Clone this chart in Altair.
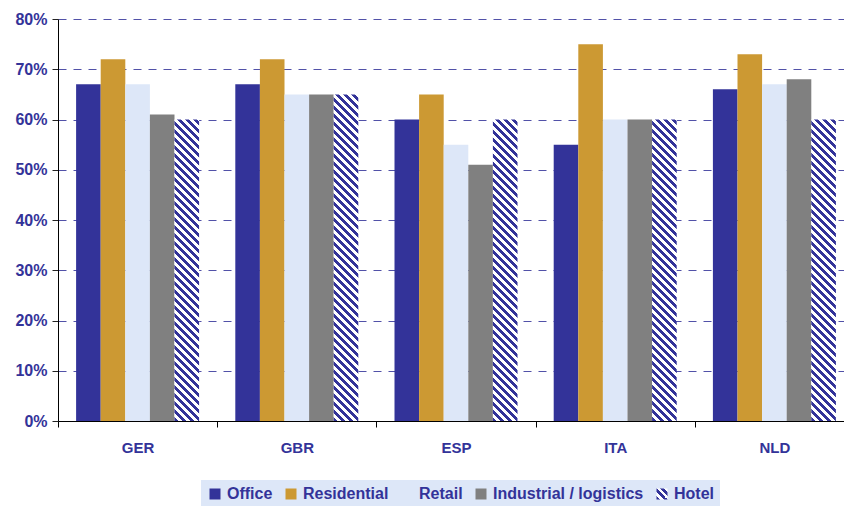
import altair as alt
import pandas as pd

# ---- data ----
countries = ["GER", "GBR", "ESP", "ITA", "NLD"]
series = ["Office", "Residential", "Retail", "Industrial / logistics", "Hotel"]
office = [0.67, 0.67, 0.60, 0.55, 0.66]
residential = [0.72, 0.72, 0.65, 0.75, 0.73]
retail = [0.67, 0.65, 0.55, 0.60, 0.67]
industrial = [0.61, 0.65, 0.51, 0.60, 0.68]
hotel = [0.60, 0.65, 0.60, 0.60, 0.60]
y_ticks = [0.0, 0.1, 0.2, 0.3, 0.4, 0.5, 0.6, 0.7, 0.8]

# ---- style ----
NAVY = "#333399"
GOLD = "#CC9933"
LIGHT = "#DDE7F8"
GREY = "#808080"
solid_colors = [NAVY, GOLD, LIGHT, GREY]
FONT = "Liberation Sans, Arial, sans-serif"

PLOT_W = 786          # visible plot width (window is 844 wide)
RANGE_W = 796         # category axis continues past the window edge, as in the reference
PLOT_H = 402
Y_MAX = 0.8
OFFSET_PAD = 0.736
step = RANGE_W / len(countries)
bar_w = step / (len(series) + 2 * OFFSET_PAD)

rows = []
for name, vals in zip(series, [office, residential, retail, industrial, hotel]):
    for c, v in zip(countries, vals):
        rows.append({"country": c, "series": name, "value": v})
df = pd.DataFrame(rows)


def stripe_gradient(w, h, period=8.0, c1=NAVY, c2="#FFFFFF"):
    """Diagonal '\\' stripes expressed as a bounding-box linear gradient."""
    s = w * w + h * h
    x2 = w * (w + h) / s
    y2 = 1 - h * (w + h) / s
    n = (w + h) / period
    stops = []
    i = 0
    while i < n:
        a = round(i / n, 5)
        b = round(min((i + 0.5) / n, 1.0), 5)
        c = round(min((i + 1) / n, 1.0), 5)
        stops += [{"offset": a, "color": c1}, {"offset": b, "color": c1},
                  {"offset": b, "color": c2}, {"offset": c, "color": c2}]
        i += 1
    return {"gradient": "linear", "x1": 0, "y1": 1,
            "x2": round(x2, 5), "y2": round(y2, 5), "stops": stops}


def legend_gradient_expr(periods=3):
    parts = []
    for i in range(periods):
        a = i / periods
        b = (i + 0.5) / periods
        c = (i + 1) / periods
        parts += [f"{{offset:{a:.4f},color:'{NAVY}'}}", f"{{offset:{b:.4f},color:'{NAVY}'}}",
                  f"{{offset:{b:.4f},color:'#FFFFFF'}}", f"{{offset:{c:.4f},color:'#FFFFFF'}}"]
    return ("{gradient:'linear',x1:0,y1:1,x2:1,y2:0,stops:[" + ",".join(parts) + "]}")


x_enc = alt.X(
    "country:N", sort=countries,
    scale=alt.Scale(range=[0, RANGE_W], paddingInner=0, paddingOuter=0),
    axis=alt.Axis(title=None, labelAngle=0, tickBand="extent", grid=False,
                  domainColor="black", tickColor="black", tickSize=6,
                  labelPadding=13, labelFont=FONT, labelFontSize=15,
                  labelFontWeight="bold", labelColor=NAVY),
)
xo_enc = alt.XOffset(
    "series:N", sort=series,
    scale=alt.Scale(domain=series, paddingInner=0, paddingOuter=OFFSET_PAD),
)
y_enc = alt.Y(
    "value:Q",
    scale=alt.Scale(domain=[0, Y_MAX], nice=False),
    axis=alt.Axis(title=None, values=y_ticks, format=".0%", grid=True,
                  gridDash=[8, 7], gridColor=NAVY, gridOpacity=0.85,
                  domainColor="black", tickColor="#222222", tickSize=6,
                  labelPadding=5, labelFont=FONT, labelFontSize=16,
                  labelFontWeight="bold", labelColor=NAVY),
)

base = alt.Chart(df)

main = base.transform_filter(alt.datum.series != "Hotel").mark_bar(strokeWidth=0).encode(
    x=x_enc,
    xOffset=xo_enc,
    y=y_enc,
    color=alt.Color(
        "series:N",
        scale=alt.Scale(domain=series,
                        range=solid_colors + [{"expr": legend_gradient_expr(3)}]),
        legend=alt.Legend(
            title=None, orient="none", legendX=143, legendY=461,
            direction="horizontal", fillColor=LIGHT, padding=6,
            symbolType="square", symbolSize=121, symbolStrokeWidth=0,
            symbolOpacity=1, labelFont=FONT, labelFontSize=16,
            labelFontWeight="bold", labelColor=NAVY, labelOffset=4,
            columnPadding=10, labelLimit=0,
        ),
    ),
)

layers = [main]
for c, v in zip(countries, hotel):
    h = v / Y_MAX * PLOT_H
    grad = stripe_gradient(bar_w, h)
    layer = base.transform_filter(
        (alt.datum.series == "Hotel") & (alt.datum.country == c)
    ).mark_bar(fill=grad, strokeWidth=0).encode(x=x_enc, xOffset=xo_enc, y=y_enc)
    layers.append(layer)

chart = alt.layer(*layers).properties(
    width=PLOT_W,
    height=PLOT_H,
    autosize=alt.AutoSizeParams(type="none"),
    padding={"left": 58, "top": 19, "right": 0, "bottom": 85},
    background="white",
).configure_view(strokeWidth=0)

chart.save("out.html", embed_options={"renderer": "svg", "actions": False})
